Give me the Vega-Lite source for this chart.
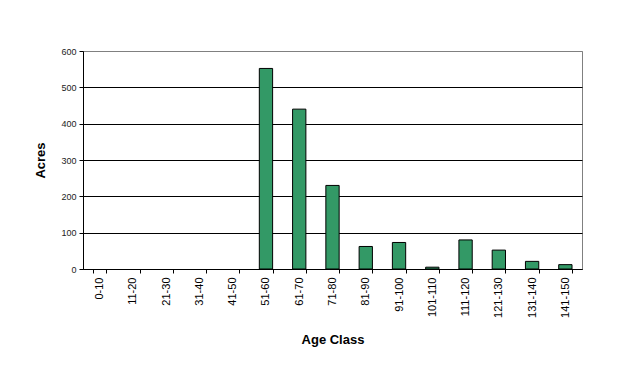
{
  "$schema": "https://vega.github.io/schema/vega-lite/v6.json",
  "width": 499,
  "height": 218,
  "autosize": {"type": "none"},
  "padding": {"left": 83, "top": 51, "right": 46, "bottom": 104},
  "background": "white",
  "config": {
    "font": "Liberation Sans",
    "view": {"stroke": "#808080", "strokeWidth": 1}
  },
  "data": {
    "values": [
      {"age": "0-10", "acres": 0},
      {"age": "11-20", "acres": 0},
      {"age": "21-30", "acres": 0},
      {"age": "31-40", "acres": 0},
      {"age": "41-50", "acres": 0},
      {"age": "51-60", "acres": 552},
      {"age": "61-70", "acres": 440},
      {"age": "71-80", "acres": 230},
      {"age": "81-90", "acres": 62},
      {"age": "91-100", "acres": 73},
      {"age": "101-110", "acres": 5},
      {"age": "111-120", "acres": 80},
      {"age": "121-130", "acres": 52},
      {"age": "131-140", "acres": 21},
      {"age": "141-150", "acres": 12}
    ]
  },
  "mark": {"type": "bar", "fill": "#339966", "stroke": "black"},
  "encoding": {
    "x": {
      "field": "age",
      "type": "nominal",
      "sort": null,
      "scale": {"paddingInner": 0.6, "paddingOuter": 0.3},
      "axis": {
        "title": "Age Class",
        "titleFont": "Liberation Sans",
        "titleFontSize": 13,
        "titleFontWeight": "bold",
        "titleColor": "black",
        "titlePadding": 16,
        "labelAngle": -90,
        "labelFontSize": 11,
        "labelColor": "black",
        "labelPadding": 4,
        "tickBand": "extent",
        "tickSize": 4,
        "tickColor": "black",
        "domainColor": "black",
        "grid": false
      }
    },
    "y": {
      "field": "acres",
      "type": "quantitative",
      "scale": {"domain": [0, 600], "nice": false},
      "axis": {
        "title": "Acres",
        "titleFont": "Liberation Sans",
        "titleFontSize": 13,
        "titleFontWeight": "bold",
        "titleColor": "black",
        "titlePadding": 13,
        "values": [0, 100, 200, 300, 400, 500, 600],
        "labelFontSize": 9,
        "labelColor": "#222222",
        "labelPadding": 3,
        "tickSize": 4,
        "tickColor": "black",
        "domainColor": "black",
        "grid": true,
        "gridColor": {"condition": {"test": "datum.value == 600", "value": "#808080"}, "value": "black"},
        "gridOpacity": 1
      }
    },
    "strokeWidth": {"condition": {"test": "datum.acres == 0", "value": 0}, "value": 1}
  }
}
